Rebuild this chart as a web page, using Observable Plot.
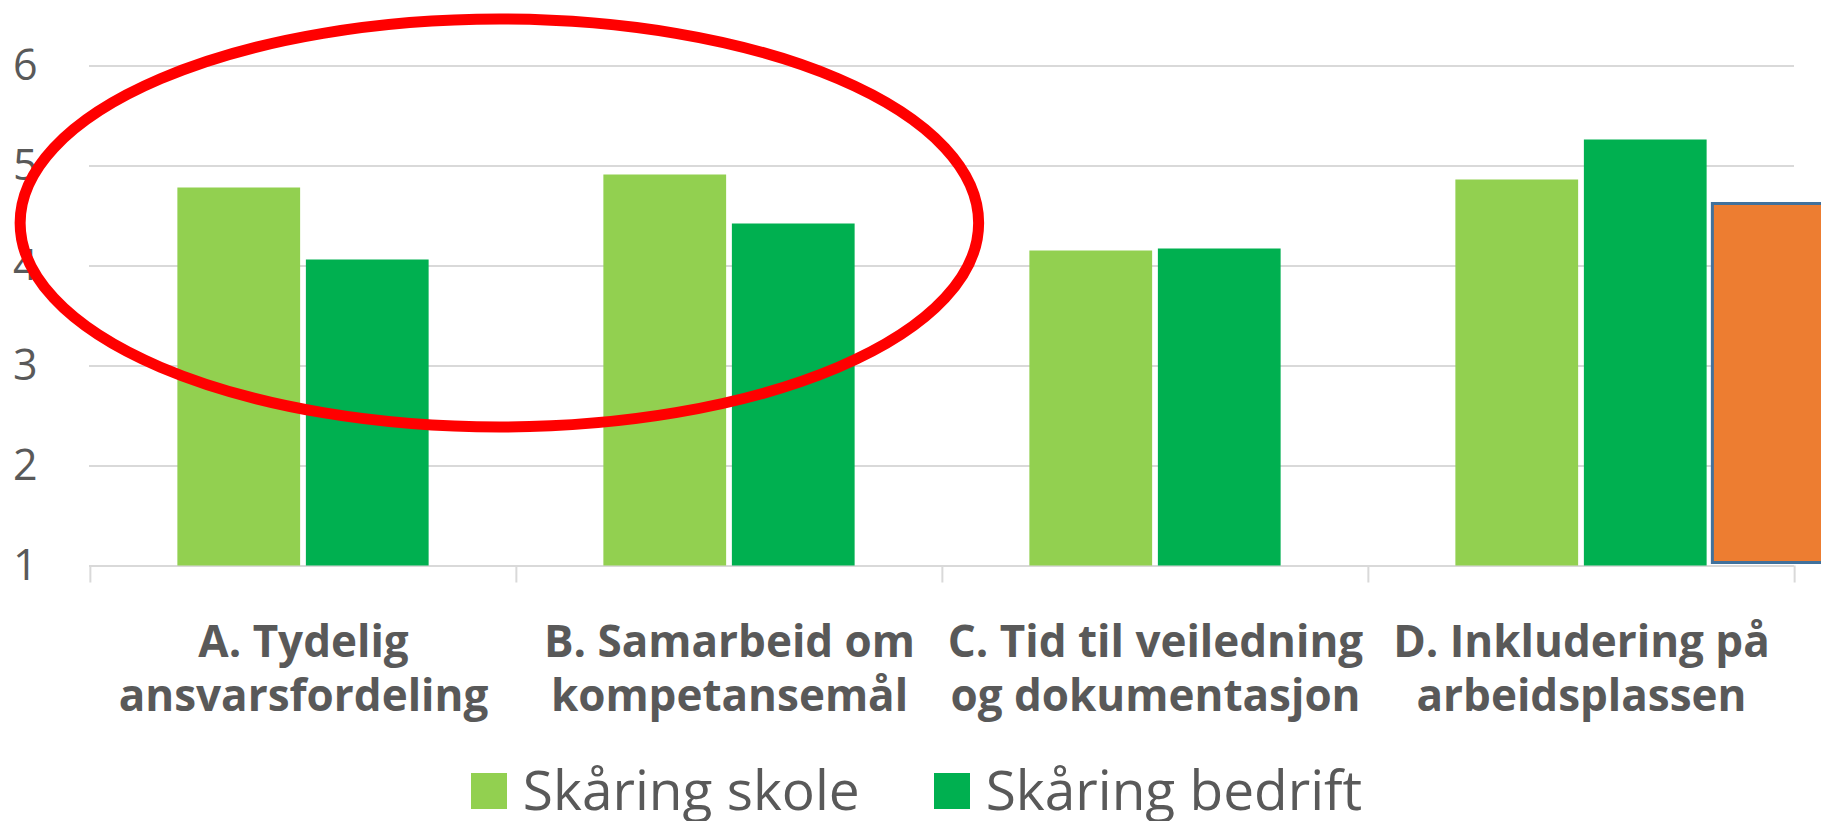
<!DOCTYPE html>
<html>
<head>
<meta charset="utf-8">
<script src="https://cdn.jsdelivr.net/npm/d3@7"></script>
<script src="https://cdn.jsdelivr.net/npm/@observablehq/plot@0.6"></script>
<style>
  html, body { margin: 0; padding: 0; background: #ffffff; }
  body { width: 1821px; height: 821px; overflow: hidden; font-family: "Open Sans", sans-serif; }
  #chart svg { display: block; }
  #legend { display: flex; justify-content: center; align-items: center; gap: 74px;
            height: 60px; padding-top: 14px; padding-left: 12px; color: #595959; font-size: 55px; line-height: 1.05; }
  .item { display: flex; align-items: center; gap: 16px; }
  .sw { width: 36px; height: 36px; display: inline-block; margin-top: 4px; }
</style>
</head>
<body>
<div id="chart"></div>
<div id="legend"></div>
<script>
// ---- data ----
const categories = [
  "A. Tydelig\nansvarsfordeling",
  "B. Samarbeid om\nkompetansemål",
  "C. Tid til veiledning\nog dokumentasjon",
  "D. Inkludering på\narbeidsplassen"
];
const seriesNames = ["Skåring skole", "Skåring bedrift"];
const skole   = [4.78, 4.91, 4.15, 4.86];
const bedrift = [4.06, 4.42, 4.17, 5.26];
const markertKategori = ["D. Inkludering på\narbeidsplassen"];
const markertVerdi = [4.62];
const yTicks = [1, 2, 3, 4, 5, 6];

// ---- styles ----
const colors = { skole: "#92D050", bedrift: "#00B050", markert: "#ED7D31", markertKant: "#41719C",
                 grid: "#D9D9D9", text: "#595959", ring: "#FF0000" };
// annotation ellipse (in data / band-step units)
const ring = { cy: 4.425, ry: 2.04, cxSteps: 0.961, rxSteps: 1.125, width: 11 };

const W = 1821, H = 745;
const mL = 89, mR = 27, mT = 65.5, mB = H - 565.5;
const bw = (W - mL - mR) / categories.length;
const half = bw / 2, barW = 123, gap = 5.5;

function ringMark(index, scales) {
  const x = scales.x, y = scales.y;
  const step = typeof x.step === "function" ? x.step() : (typeof x.bandwidth === "function" ? x.bandwidth() : x.bandwidth);
  const x0 = x(categories[0]);
  const el = document.createElementNS("http://www.w3.org/2000/svg", "ellipse");
  el.setAttribute("cx", x0 + ring.cxSteps * step);
  el.setAttribute("cy", y(ring.cy));
  el.setAttribute("rx", ring.rxSteps * step);
  el.setAttribute("ry", Math.abs(y(ring.cy + ring.ry) - y(ring.cy)));
  el.setAttribute("fill", "none");
  el.setAttribute("stroke", colors.ring);
  el.setAttribute("stroke-width", ring.width);
  return el;
}

const chart = Plot.plot({
  width: W, height: H,
  marginLeft: mL, marginRight: mR, marginTop: mT, marginBottom: mB,
  style: { fontFamily: '"Open Sans", sans-serif', fontSize: "43px", color: colors.text, background: "white", overflow: "visible" },
  x: { domain: categories, padding: 0, axis: null },
  y: { domain: [1, 6], ticks: yTicks, tickFormat: d => String(d), tickSize: 0, tickPadding: 52, label: null },
  marks: [
    Plot.ruleY(yTicks, { stroke: colors.grid, strokeWidth: 2 }),
    Plot.ruleX(categories, { x: d => d, y1: 1, y2: 1, dx: -half, insetBottom: -17, stroke: colors.grid, strokeWidth: 2 }),
    Plot.ruleX(categories.slice(-1), { x: d => d, y1: 1, y2: 1, dx: half, insetBottom: -17, stroke: colors.grid, strokeWidth: 2 }),
    Plot.barY(categories, { x: categories, y1: 1, y2: skole, fill: colors.skole,
      insetLeft: half - gap / 2 - barW, insetRight: half + gap / 2 }),
    Plot.barY(categories, { x: categories, y1: 1, y2: bedrift, fill: colors.bedrift,
      insetLeft: half + gap / 2, insetRight: half - gap / 2 - barW }),
    Plot.barY(markertKategori, { x: markertKategori, y1: 1, y2: markertVerdi, fill: colors.markert,
      stroke: colors.markertKant, strokeWidth: 3,
      insetLeft: half + gap / 2 + barW + gap, insetRight: half - (gap / 2 + 2 * barW + gap), insetBottom: 3 }),
    Plot.text(categories, { x: d => d, frameAnchor: "bottom", lineAnchor: "top", dy: 53,
      fontSize: 44, fontWeight: "bold", lineHeight: 1.22, fill: colors.text }),
    ringMark
  ]
});
document.getElementById("chart").appendChild(chart);

const legend = document.getElementById("legend");
[[seriesNames[0], colors.skole], [seriesNames[1], colors.bedrift]].forEach(([name, c]) => {
  const item = document.createElement("div");
  item.className = "item";
  const sw = document.createElement("span");
  sw.className = "sw";
  sw.style.background = c;
  const t = document.createElement("span");
  t.textContent = name;
  item.appendChild(sw); item.appendChild(t);
  legend.appendChild(item);
});
</script>
</body>
</html>
